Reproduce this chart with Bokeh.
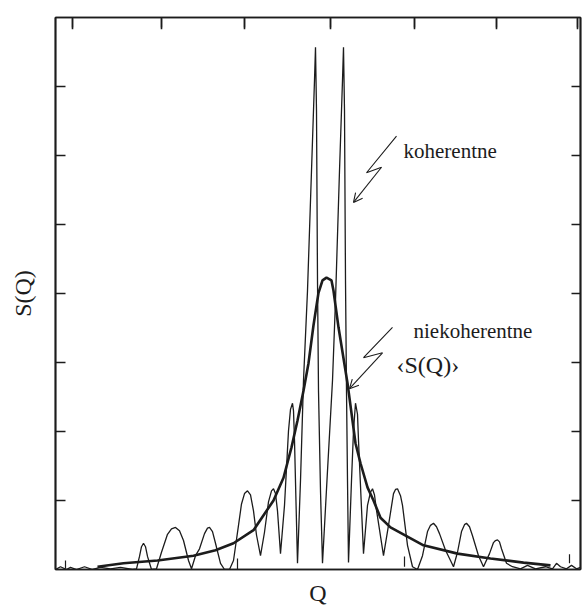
from bokeh.plotting import figure
from bokeh.models import (Range1d, LinearAxis, FixedTicker, Label, Arrow, OpenHead,
                          CustomJSTickFormatter)
from bokeh.embed import file_html
from bokeh.resources import INLINE

# ---- data (Q in arbitrary units, S(Q) in arbitrary units) ----
q_coh = [55, 60, 66, 70, 76, 84, 92, 100, 110, 120, 132,
         136, 139, 141, 143, 145, 147, 151,
         156, 161, 167, 171, 175, 179, 183, 188, 191,
         195, 199, 204, 207, 209, 212, 215, 220, 224, 229,
         233, 238, 241, 244, 247, 250, 253, 256, 260,
         264, 268, 271, 273, 275, 277, 280,
         284, 288, 290, 292, 293, 294, 297,
         300, 303, 307, 311, 314, 315, 316, 317, 318, 320, 322,
         327, 332, 335, 339, 342, 343, 344, 345, 346, 347, 348,
         351, 353, 355, 357, 358, 363,
         367, 370, 372, 374, 376, 383,
         388, 393, 395, 397, 400, 402, 407, 412, 417,
         422, 427, 430, 433, 436, 439, 445, 450, 453,
         457, 461, 464, 466, 469, 472, 478, 483,
         489, 493, 495, 497, 499, 501, 506,
         512, 520, 527, 535, 545, 552, 556, 560, 566, 571, 576, 580]
s_coh = [0, 0.04, 0, 0.03, 0, 0.04, 0, 0.03, 0.01, 0.03, 0,
         0.01, 0.19, 0.33, 0.38, 0.33, 0.19, 0,
         0.01, 0.25, 0.51, 0.59, 0.61, 0.56, 0.42, 0.13, 0.01,
         0.20, 0.30, 0.52, 0.60, 0.61, 0.55, 0.38, 0.09, 0, 0,
         0.13, 0.64, 0.95, 1.10, 1.14, 1.08, 0.85, 0.50, 0.20,
         0.54, 0.98, 1.14, 1.17, 1.10, 0.85, 0.23,
         0.93, 2.01, 2.32, 2.41, 2.30, 1.87, 0.09,
         1.29, 2.74, 4.04, 5.78, 7.09, 7.57, 6.65, 4.19, 2.59, 1.14, 0.09,
         1.43, 2.74, 3.90, 5.78, 7.09, 7.57, 6.65, 4.19, 2.59, 1.29, 0.10,
         1.29, 2.01, 2.41, 2.25, 1.87, 0.23,
         0.93, 1.12, 1.17, 1.08, 0.86, 0.20,
         0.64, 1.10, 1.16, 1.17, 1.07, 0.93, 0.35, 0.04, 0,
         0.20, 0.55, 0.64, 0.67, 0.62, 0.52, 0.28, 0.13, 0.04,
         0.25, 0.55, 0.65, 0.67, 0.62, 0.49, 0.20, 0.04,
         0.23, 0.39, 0.42, 0.43, 0.40, 0.30, 0.09,
         0.04, 0.01, 0.06, 0.01, 0.04, 0.01, 0.09, 0.04, 0.01, 0.06, 0.01, 0.03]

q_inc = [97, 123, 157, 193, 215, 233, 253, 273, 283, 291, 297, 303, 308, 313,
         318, 322, 326, 331, 333, 338, 345, 347, 355, 360, 367, 373, 380, 390,
         423, 457, 490, 523, 550]
s_inc = [0.04, 0.09, 0.13, 0.20, 0.28, 0.38, 0.57, 1.00, 1.33, 1.77, 2.16, 2.59, 2.99, 3.54,
         4.01, 4.19, 4.23, 4.19, 4.04, 3.51, 2.88, 2.70, 1.83, 1.54, 1.19, 1.00, 0.75, 0.61,
         0.35, 0.23, 0.16, 0.10, 0.06]

# small spurious vertical marks near the baseline of the original record
mark_q = [65, 237, 404, 569]
mark_s0 = [0.01, 0.0, 0.04, 0.09]
mark_s1 = [0.13, 0.16, 0.19, 0.22]

q_ticks = [72, 161, 244, 330, 414, 496, 577]
s_ticks = [1, 2, 3, 4, 5, 6, 7]

# annotation arrows ("lightning" pointers)
bolt1_q = [396, 366, 381]
bolt1_s = [6.28, 5.75, 5.83]
bolt1_tip = (353, 5.32)
bolt2_q = [392, 363, 382]
bolt2_s = [3.51, 3.07, 3.14]
bolt2_tip = (349, 2.62)

INK = "#1c1c1c"
FONT = "Liberation Serif"

p = figure(width=584, height=608, output_backend="svg", toolbar_location=None,
           x_range=Range1d(55, 580), y_range=Range1d(0, 8),
           min_border_left=55, min_border_right=4, min_border_top=17, min_border_bottom=39,
           background_fill_color="white", border_fill_color="white")
p.xaxis.visible = False
p.yaxis.visible = False
p.xgrid.visible = False
p.ygrid.visible = False
p.outline_line_color = INK
p.outline_line_width = 1.7

blank = CustomJSTickFormatter(code="return ''")


def make_axis(ticks, tick_in, label=None, standoff=0):
    ax = LinearAxis(ticker=FixedTicker(ticks=ticks), formatter=blank,
                    major_tick_in=tick_in, major_tick_out=0,
                    minor_tick_in=0, minor_tick_out=0,
                    major_label_standoff=0, axis_line_color=INK, axis_line_width=1.7,
                    major_tick_line_color=INK, major_tick_line_width=1.4)
    if label:
        ax.axis_label = label
        ax.axis_label_text_font = FONT
        ax.axis_label_text_font_size = "24px"
        ax.axis_label_text_font_style = "normal"
        ax.axis_label_text_color = INK
        ax.axis_label_standoff = standoff
    return ax


p.add_layout(make_axis(s_ticks, 10, "S(Q)", 20), "left")
p.add_layout(make_axis(s_ticks, 9), "right")
p.add_layout(make_axis(q_ticks, 10), "above")
p.add_layout(make_axis([], 0, "Q", 10), "below")

# inward ticks along the top edge, also drawn as glyphs (about 10 px long)
top_tick_top = [7.99] * len(q_ticks)
top_tick_bottom = [7.83] * len(q_ticks)
p.segment(x0=q_ticks, y0=top_tick_top, x1=q_ticks, y1=top_tick_bottom,
          line_color=INK, line_width=1.6)

p.line(q_coh, s_coh, line_color=INK, line_width=1.3)
p.line(q_inc, s_inc, line_color=INK, line_width=2.6)
p.segment(x0=mark_q, y0=mark_s0, x1=mark_q, y1=mark_s1, line_color=INK, line_width=1.2)

# pointers
p.line(bolt1_q, bolt1_s, line_color=INK, line_width=1.1)
p.add_layout(Arrow(end=OpenHead(size=9, line_width=1.1, line_color=INK),
                   x_start=bolt1_q[-1], y_start=bolt1_s[-1], x_end=bolt1_tip[0], y_end=bolt1_tip[1],
                   line_color=INK, line_width=1.1))
p.line(bolt2_q, bolt2_s, line_color=INK, line_width=1.1)
p.add_layout(Arrow(end=OpenHead(size=9, line_width=1.1, line_color=INK),
                   x_start=bolt2_q[-1], y_start=bolt2_s[-1], x_end=bolt2_tip[0], y_end=bolt2_tip[1],
                   line_color=INK, line_width=1.1))

p.add_layout(Label(x=403, y=6.06, text="koherentne", text_font=FONT, text_font_size="21px",
                   text_color=INK, text_baseline="alphabetic"))
p.add_layout(Label(x=413, y=3.46, text="niekoherentne", text_font=FONT, text_font_size="21px",
                   text_color=INK, text_baseline="alphabetic"))
p.add_layout(Label(x=396, y=2.97, text="‹S(Q)›", text_font=FONT, text_font_size="24px",
                   text_color=INK, text_baseline="alphabetic"))

open("out.html", "w").write(file_html(p, INLINE))
